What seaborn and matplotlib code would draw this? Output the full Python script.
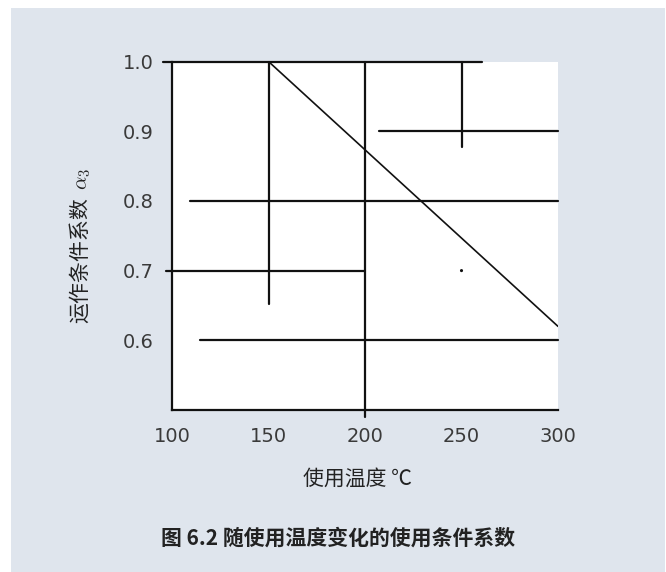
import matplotlib
matplotlib.use("Agg")
import matplotlib.pyplot as plt
from matplotlib.patches import Rectangle
import numpy as np
import pandas as pd
import seaborn as sns

sns.set_theme(style="white")
plt.rcParams['font.family'] = ['Noto Sans CJK SC', 'DejaVu Sans']
plt.rcParams['mathtext.fontset'] = 'cm'

# Axis ticks
x_ticks = [100, 150, 200, 250, 300]
x_tick_labels = ["100", "150", "200", "250", "300"]
y_ticks = [1.0, 0.9, 0.8, 0.7, 0.6]
y_tick_labels = ["1.0", "0.9", "0.8", "0.7", "0.6"]

# Horizontal reading lines: level, start temperature, end temperature
h_level = [1.0, 0.9, 0.8, 0.7, 0.6]
h_start = [95.3, 207.0, 109.4, 97.0, 114.6]
h_end = [260.4, 300.0, 300.0, 200.0, 300.0]

# Vertical reading lines: temperature, lower coefficient, upper coefficient
v_temp = [150, 200, 250]
v_low = [0.652, 0.49, 0.877]
v_high = [1.0, 1.0, 1.0]

# Coefficient curve: temperature vs. coefficient
curve_temp = [150, 300]
curve_coef = [1.0, 0.62]

# Isolated reading point
pt_temp = [250]
pt_coef = [0.7]

BG = "#dfe5ed"
INK = "#111111"

fig = plt.figure(figsize=(6.66, 5.72), dpi=100)
fig.patch.set_facecolor("white")
fig.patches.append(Rectangle((11 / 666, 0), (665 - 11) / 666, 1 - 8 / 572,
                             transform=fig.transFigure, facecolor=BG,
                             edgecolor="none", zorder=-10))

ax = fig.add_axes([172 / 666, 1 - 410 / 572, 386 / 666, (410 - 61.5) / 572])
ax.set_facecolor("white")

seg_rows = []
for i, (y, x0, x1) in enumerate(zip(h_level, h_start, h_end)):
    seg_rows.append({"seg": f"h{i}", "x": x0, "y": y})
    seg_rows.append({"seg": f"h{i}", "x": x1, "y": y})
for i, (x, y0, y1) in enumerate(zip(v_temp, v_low, v_high)):
    seg_rows.append({"seg": f"v{i}", "x": x, "y": y0})
    seg_rows.append({"seg": f"v{i}", "x": x, "y": y1})
segs = pd.DataFrame(seg_rows)

sns.lineplot(data=segs, x="x", y="y", units="seg", estimator=None,
             color=INK, linewidth=1.6, sort=False, ax=ax)
for line in ax.lines:
    line.set_clip_on(False)

curve = pd.DataFrame({"x": curve_temp, "y": curve_coef})
sns.lineplot(data=curve, x="x", y="y", color=INK, linewidth=1.2, ax=ax)

pts = pd.DataFrame({"x": pt_temp, "y": pt_coef})
sns.scatterplot(data=pts, x="x", y="y", color=INK, s=5, ax=ax,
                edgecolor="none")

ax.set_xlim(100, 300)
ax.set_ylim(0.5, 1.0)
ax.set_xticks(x_ticks)
ax.set_xticklabels(x_tick_labels, fontfamily="DejaVu Sans")
ax.set_yticks(y_ticks)
ax.set_yticklabels(y_tick_labels, fontfamily="DejaVu Sans")

for side in ["top", "right"]:
    ax.spines[side].set_visible(False)
for side in ["left", "bottom"]:
    ax.spines[side].set_color(INK)
    ax.spines[side].set_linewidth(1.6)

ax.tick_params(axis="both", which="both", length=0, labelsize=14,
               labelcolor="#3a3a3a")
ax.tick_params(axis="x", pad=12)
ax.tick_params(axis="y", pad=13)

ax.set_xlabel("使用温度 ℃", fontsize=15, color="#222222")
ax.xaxis.set_label_coords(0.48, -0.165)
ax.set_ylabel("运作条件系数  $\\alpha_3$", fontsize=15, color="#222222")
ax.yaxis.set_label_coords(-0.205, 0.47)

fig.text(338 / 666, 1 - 538 / 572, "图 6.2 随使用温度变化的使用条件系数",
         ha="center", va="center", fontsize=15, fontweight="semibold",
         color="#222222")

fig.savefig("out.png", dpi=100, facecolor=fig.get_facecolor())
